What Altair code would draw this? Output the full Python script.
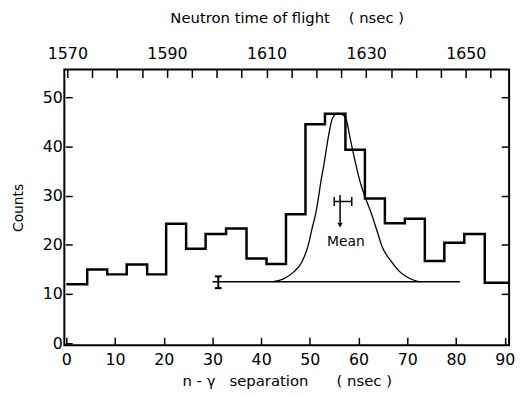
import altair as alt
import pandas as pd

# ---- data ----
edges = [0, 4.3, 8.4, 12.4, 16.6, 20.5, 24.6, 28.6, 32.8, 37.0, 41.1, 45.1,
         49.1, 53.1, 57.3, 61.3, 65.4, 69.5, 73.6, 77.6, 81.7, 85.9, 90.9]
counts = [12, 15, 14, 16, 14, 24.3, 19.2, 22.2, 23.3, 17.2, 16.1, 26.2,
          44.5, 46.6, 39.3, 29.4, 24.4, 25.3, 16.7, 20.4, 22.2, 12.3]

curve_x = [42.5, 44.6, 46.6, 48.3, 49.6, 50.4, 51.2, 51.8, 52.3, 52.8, 53.9,
           54.6, 55.7, 56.8, 57.6, 58.1, 59.4, 60.4, 61.3, 62.6, 63.7, 64.8,
           66.9, 68.6, 70.6, 72.5]
curve_y = [12.5, 13.1, 14.4, 16.4, 19.7, 23.1, 26.4, 29.8, 33.1, 35.8, 42.5,
           45.6, 46.7, 46.4, 45.0, 42.5, 36.5, 32.5, 29.8, 26.4, 23.1, 19.7,
           16.4, 14.4, 13.1, 12.5]

base_start, base_end, base_level = 30.0, 80.8, 12.5
err_x, err_lo, err_hi, err_cap = 31.2, 11.2, 13.6, 0.7

mean_x, mean_lo, mean_hi, mean_level = 56.2, 55.0, 58.6, 28.8
mean_top, mean_arrow, mean_cap = 30.1, 24.0, 0.9
mean_label_x, mean_label_y = 57.4, 19.7

bottom_ticks = [0, 10, 20, 30, 40, 50, 60, 70, 80, 90]
left_ticks = [0, 10, 20, 30, 40, 50]
right_ticks = [10, 20, 30, 40, 50]
top_ticks = list(range(1570, 1660, 5))

XDOM = [-0.4, 90.9]
YDOM = [-0.4, 55.6]
TDOM = [1569.4, 1658.7]
W, H = 450, 279
FONT = "DejaVu Sans"
NB = "\u00a0"

xs = alt.Scale(domain=XDOM, nice=False, zero=False)
ys = alt.Scale(domain=YDOM, nice=False, zero=False)
ts = alt.Scale(domain=TDOM, nice=False, zero=False)

common = dict(domain=False, grid=False, tickColor="black", tickWidth=1.5,
              labelFont=FONT, labelColor="black", titleFont=FONT,
              titleColor="black", titleFontWeight="normal")

bottom_axis = alt.Axis(orient="bottom", values=bottom_ticks, offset=-8, tickSize=8,
                       labelFontSize=16, labelPadding=6,
                       title=f"n - γ{NB*3}separation{NB*6}({NB}nsec{NB})",
                       titleFontSize=15, titlePadding=7, **common)
left_axis = alt.Axis(orient="left", values=left_ticks, offset=-8, tickSize=7,
                     labelFontSize=16, labelPadding=3, title="Counts",
                     titleFontSize=14, titlePadding=17, **common)
right_axis = alt.Axis(orient="right", values=right_ticks, offset=-8, tickSize=8,
                      labels=False, title=None, **common)
top_axis = alt.Axis(orient="top", values=top_ticks, offset=-8, tickSize=8, format="d",
                    labelExpr="datum.value % 20 == 10 ? datum.label : ''",
                    labelFontSize=16, labelPadding=8,
                    title=f"Neutron{NB}time{NB}of{NB}flight{NB*4}({NB}nsec{NB})",
                    titleFontSize=15, titlePadding=21, **common)

hist_df = pd.DataFrame({"x": edges, "y": counts + [counts[-1]]})
curve_df = pd.DataFrame({"x": curve_x, "y": curve_y})

seg_df = pd.DataFrame({
    "x":  [base_start, err_x, err_x - err_cap, err_x - err_cap,
           mean_lo, mean_lo, mean_hi, mean_x],
    "x2": [base_end, err_x, err_x + err_cap, err_x + err_cap,
           mean_hi, mean_lo, mean_hi, mean_x],
    "y":  [base_level, err_lo, err_lo, err_hi,
           mean_level, mean_level - mean_cap, mean_level - mean_cap, mean_top],
    "y2": [base_level, err_hi, err_lo, err_hi,
           mean_level, mean_level + mean_cap, mean_level + mean_cap, mean_arrow + 0.5],
    "w":  [1.3, 2.0, 2.0, 2.0, 1.5, 1.5, 1.5, 1.5],
})

hist = alt.Chart(hist_df).mark_line(
    interpolate="step-after", color="black", strokeWidth=2.5, clip=True
).encode(x=alt.X("x:Q", scale=xs, axis=bottom_axis),
         y=alt.Y("y:Q", scale=ys, axis=left_axis))

right = alt.Chart(hist_df).mark_line(opacity=0).encode(
    x=alt.X("x:Q", scale=xs, axis=None),
    y=alt.Y("y:Q", scale=ys, axis=right_axis))

curve = alt.Chart(curve_df).mark_line(
    interpolate="monotone", color="black", strokeWidth=1.3
).encode(x=alt.X("x:Q", scale=xs, axis=None),
         y=alt.Y("y:Q", scale=ys, axis=None))

segs = alt.Chart(seg_df).mark_rule(color="black").encode(
    x=alt.X("x:Q", scale=xs, axis=None), x2="x2:Q",
    y=alt.Y("y:Q", scale=ys, axis=None), y2="y2:Q",
    strokeWidth=alt.StrokeWidth("w:Q", scale=None))

arrow = alt.Chart(pd.DataFrame({"x": [mean_x], "y": [mean_arrow]})).mark_point(
    shape="triangle-down", filled=True, color="black", size=28, opacity=1
).encode(x=alt.X("x:Q", scale=xs, axis=None),
         y=alt.Y("y:Q", scale=ys, axis=None))

label = alt.Chart(pd.DataFrame({"x": [mean_label_x], "y": [mean_label_y], "t": ["Mean"]})).mark_text(
    font=FONT, fontSize=14, color="black", align="center", baseline="alphabetic"
).encode(x=alt.X("x:Q", scale=xs, axis=None),
         y=alt.Y("y:Q", scale=ys, axis=None), text="t:N")

top = alt.Chart(pd.DataFrame({"t": top_ticks})).mark_point(opacity=0).encode(
    x=alt.X("t:Q", scale=ts, axis=top_axis))

chart = alt.layer(hist, right, curve, segs, arrow, label, top).resolve_scale(
    x="independent"
).resolve_axis(x="independent", y="independent").properties(
    width=W, height=H,
    autosize=alt.AutoSizeParams(type="none"),
    padding={"left": 57, "top": 60, "right": 9, "bottom": 42},
    background="white",
).configure_view(stroke="black", strokeWidth=2)

chart.save("out.html", embed_options={"renderer": "svg", "actions": False})
